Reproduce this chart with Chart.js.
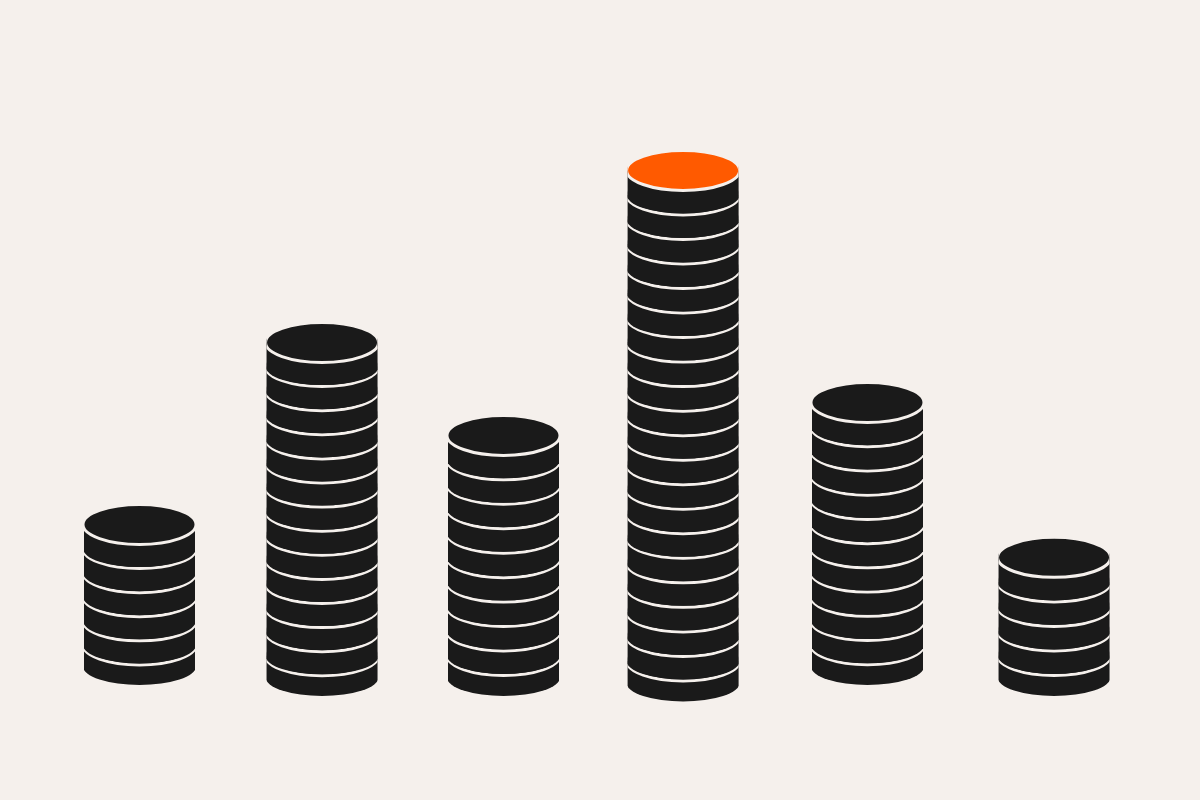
<!DOCTYPE html>
<html>
<head>
<meta charset="utf-8">
<style>
  html, body { margin: 0; padding: 0; background: #f5f0ec; }
  canvas { display: block; }
</style>
<script src="https://cdn.jsdelivr.net/npm/chart.js@4/dist/chart.umd.min.js"></script>
</head>
<body>
<canvas id="chart" width="1200" height="800"></canvas>
<script>
// values, y unit is roughly one coin
const stackPos = [0, 0.998, 1.99, 2.972, 3.98, 5];
const coinCounts = [6, 14, 10, 21, 11, 5];
const stackLow = [0.68, 0.23, 0.23, 0, 0.68, 0.23];
const stackHigh = [6.55, 14.07, 10.23, 21.18, 11.59, 5.19];
const highlight = 3;

const BG = "#f5f0ec";
const DARK = "#1a1a1a";
const ORANGE = "#ff5a00";
const COIN_W = 111;
const COIN_RY = 18.5;
const OVERHANG = 1; // ellipses run a bit wider than the stack, sides get cut flat
const LINE_W = 3;
const GAP = 2.5;

function drawCoin(ctx, x, cy, thick, face){
    const rx = COIN_W / 2 + OVERHANG;
    // side and underside
    ctx.fillStyle = DARK;
    ctx.beginPath();
    ctx.moveTo(x - rx, cy);
    ctx.lineTo(x - rx, cy + thick);
    ctx.ellipse(x, cy + thick, rx, COIN_RY, 0, Math.PI, 0, true);
    ctx.lineTo(x + rx, cy);
    ctx.closePath();
    ctx.fill();
    // top face with its light rim
    ctx.beginPath();
    ctx.ellipse(x, cy, rx, COIN_RY + LINE_W / 2, 0, 0, Math.PI * 2);
    ctx.fillStyle = face;
    ctx.fill();
    ctx.strokeStyle = BG;
    ctx.lineWidth = LINE_W;
    ctx.stroke();
}

const coinPlugin = {
    id: "coins",
    afterDatasetsDraw(chart){
        const ctx = chart.ctx;
        const yScale = chart.scales.y;
        chart.getDatasetMeta(0).data.forEach((bar, i) => {
            const top = yScale.getPixelForValue(stackHigh[i]);
            const bottom = yScale.getPixelForValue(stackLow[i]);
            const n = coinCounts[i];
            const pitch = (bottom - top + GAP) / n;
            ctx.save();
            ctx.beginPath();
            ctx.rect(bar.x - bar.width / 2, 0, bar.width, chart.height);
            ctx.clip();
            for(let k = n - 1; k >= 0; k--){
                const face = (k === 0 && i === highlight) ? ORANGE : DARK;
                // only the lowest coin shows its full underside
                const thick = k === n - 1 ? pitch - GAP : pitch;
                drawCoin(ctx, bar.x, top + k * pitch, thick, face);
            }
            ctx.restore();
        });
    }
};

const ctx = document.getElementById("chart").getContext("2d");
new Chart(ctx, {
    type: "bar",
    data: {
        datasets: [{
            data: stackPos.map((x, i) => ({x: x, y: [stackLow[i], stackHigh[i]]})),
            backgroundColor: "rgba(0,0,0,0)",
            barThickness: COIN_W
        }]
    },
    options: {
        responsive: false,
        animation: false,
        layout: {padding: 0},
        plugins: {legend: {display: false}, tooltip: {enabled: false}},
        scales: {
            x: {type: "linear", display: false, offset: false, min: -0.7627, max: 5.798},
            y: {type: "linear", display: false, min: -4.835, max: 28.22}
        }
    },
    plugins: [coinPlugin]
});
</script>
</body>
</html>
